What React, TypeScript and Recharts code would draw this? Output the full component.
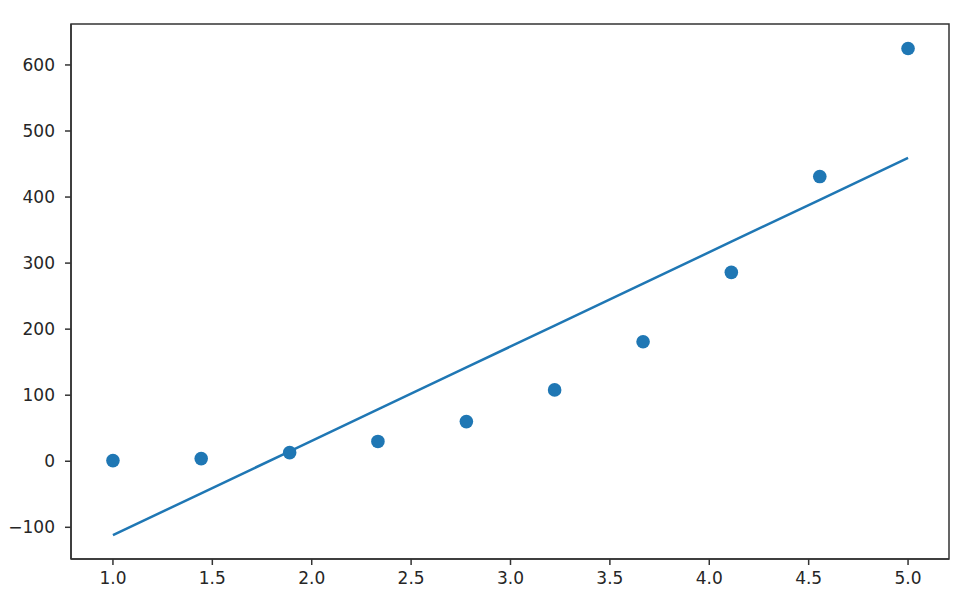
import React from 'react';
import { ComposedChart, Line, Scatter, XAxis, YAxis, ReferenceArea } from 'recharts';

// sample points and the straight-line fit drawn through them
const xs = [1, 1.444, 1.889, 2.333, 2.778, 3.222, 3.667, 4.111, 4.556, 5];
const ys = [1, 4, 13, 30, 60, 108, 181, 286, 431, 625];
const fit = [-112, -48.5, 15, 78.5, 142, 205.4, 268.9, 332.4, 395.9, 459.3];

const xTicks = [1, 1.5, 2, 2.5, 3, 3.5, 4, 4.5, 5];
const yTicks = [-100, 0, 100, 200, 300, 400, 500, 600];

const X_DOMAIN: [number, number] = [0.789, 5.206];
const Y_DOMAIN: [number, number] = [-148, 662];

const BLUE = '#1f77b4';
const FRAME = '#333333';

const tickStyle = { fontFamily: '"DejaVu Sans", sans-serif', fontSize: 17, fill: '#262626' };

const data = xs.map((x, i) => ({ x, y: ys[i], fit: fit[i] }));

const App: React.FC = () => {
  return (
    <div style={{ position: 'absolute', left: 0, top: 0, width: 972, height: 616, background: '#fff' }}>
      <ComposedChart width={972} height={616} data={data} margin={{ top: 24, right: 23, bottom: 27, left: 11 }}>
        <XAxis
          dataKey="x"
          type="number"
          domain={X_DOMAIN}
          ticks={xTicks}
          tickFormatter={(v: number) => v.toFixed(1)}
          height={30}
          tickSize={6}
          tickMargin={7}
          stroke={FRAME}
          strokeWidth={1.5}
          tick={tickStyle}
          allowDataOverflow
        />
        <YAxis
          type="number"
          domain={Y_DOMAIN}
          ticks={yTicks}
          width={60}
          tickSize={6}
          tickMargin={10}
          stroke={FRAME}
          strokeWidth={1.5}
          tick={tickStyle}
          tickFormatter={(v: number) => (v < 0 ? '\u2212' + Math.abs(v) : String(v))}
          allowDataOverflow
        />
        {/* frame around the plot area */}
        <ReferenceArea
          x1={X_DOMAIN[0]}
          x2={X_DOMAIN[1]}
          y1={Y_DOMAIN[0]}
          y2={Y_DOMAIN[1]}
          fill="none"
          fillOpacity={0}
          stroke={FRAME}
          strokeWidth={1.5}
          ifOverflow="extendDomain"
        />
        <Line
          dataKey="fit"
          type="linear"
          stroke={BLUE}
          strokeWidth={2.5}
          dot={false}
          activeDot={false}
          isAnimationActive={false}
        />
        <Scatter
          dataKey="y"
          fill={BLUE}
          shape={(props: any) => <circle cx={props.cx} cy={props.cy} r={6.8} fill={BLUE} />}
          isAnimationActive={false}
        />
      </ComposedChart>
    </div>
  );
};

export default App;
